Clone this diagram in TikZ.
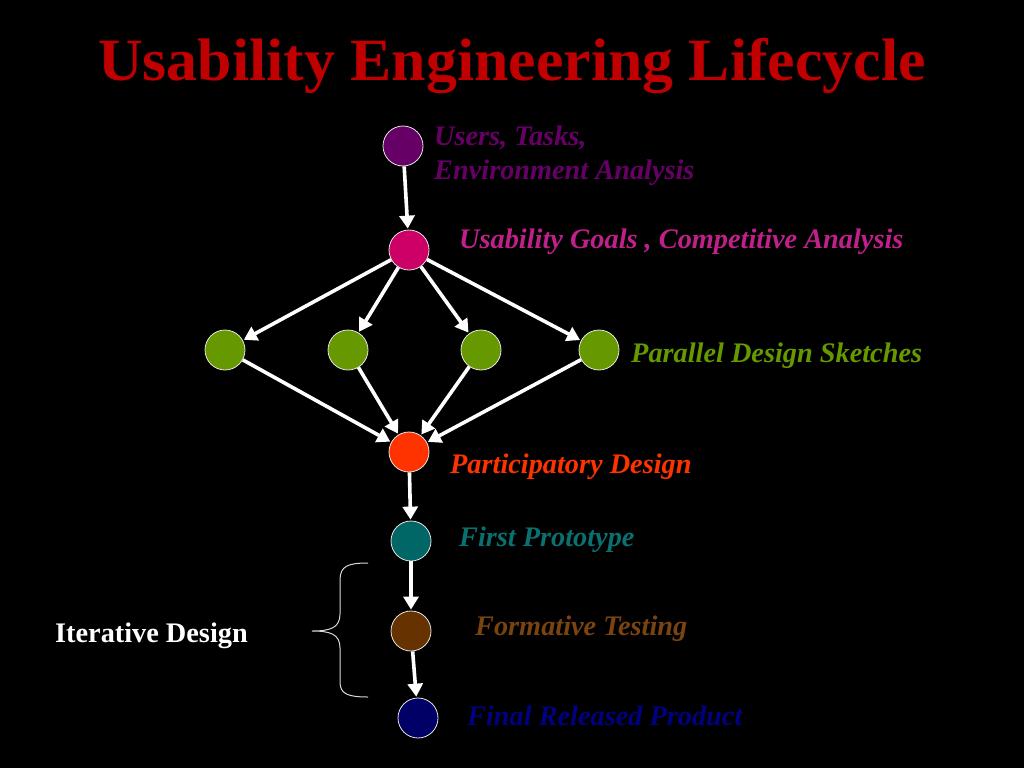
\documentclass[tikz,border=0pt]{standalone}
\usepackage{fontspec}
\setmainfont{Liberation Serif}
\newfontfamily\titlefont[FakeStretch=1.03]{Liberation Serif}
\usetikzlibrary{arrows.meta}
\definecolor{cpurple}{HTML}{660066}
\definecolor{cmagenta}{HTML}{CC0066}
\definecolor{cmagtext}{HTML}{C0208A}
\definecolor{cgreen}{HTML}{669900}
\definecolor{cred}{HTML}{FF3300}
\definecolor{cteal}{HTML}{006666}
\definecolor{ctealtext}{HTML}{0A7070}
\definecolor{cbrown}{HTML}{663300}
\definecolor{cbrowntext}{HTML}{7A4410}
\definecolor{cnavy}{HTML}{000066}
\definecolor{cnavytext}{HTML}{000080}
\definecolor{ctitle}{HTML}{C00000}
\tikzset{
  dot/.style={circle, draw=white!90!black, line width=0.8pt, minimum size=40pt, inner sep=0pt},
  lab/.style={anchor=west, inner sep=0pt, font=\fontsize{28.3}{34}\selectfont\bfseries\itshape, align=left},
  flow/.style={draw=white, line width=3.6pt, -{Triangle[length=13pt,width=15pt]}, shorten >=1pt},
}
\begin{document}
\begin{tikzpicture}[x=1pt,y=-1pt]
\fill[black] (0,0) rectangle (1024,768);
\useasboundingbox (0,0) rectangle (1024,768);
% title
\node[anchor=base, inner sep=0pt, text=ctitle, font=\titlefont\fontsize{60}{66}\selectfont\bfseries] (title) at (512,80) {Usability Engineering Lifecycle};
% nodes
\node[dot, fill=cpurple] (a) at (403,146) {};
\node[dot, fill=cmagenta] (b) at (409,250) {};
\node[dot, fill=cgreen] (g1) at (225,350) {};
\node[dot, fill=cgreen] (g2) at (348,350) {};
\node[dot, fill=cgreen] (g3) at (481,350) {};
\node[dot, fill=cgreen] (g4) at (599,350) {};
\node[dot, fill=cred] (p) at (409,452) {};
\node[dot, fill=cteal] (f) at (411,541) {};
\node[dot, fill=cbrown] (t) at (411,631) {};
\node[dot, fill=cnavy] (r) at (418,718) {};
% labels
\node[lab, text=cpurple] (la) at (434,156) {Users, Tasks,\\Environment Analysis};
\node[lab, text=cmagtext] (lb) at (459,242) {Usability Goals , Competitive Analysis};
\node[lab, text=cgreen] (lg) at (631,356) {Parallel Design Sketches};
\node[lab, text=cred] (lp) at (450,467) {Participatory Design};
\node[lab, text=ctealtext] (lf) at (459,540) {First Prototype};
\node[lab, text=cbrowntext] (lt) at (475,629) {Formative Testing};
\node[lab, text=cnavytext] (lr) at (467,716) {Final Released Product};
\node[anchor=west, inner sep=0pt, text=white, font=\fontsize{28.3}{34}\selectfont\bfseries] (it) at (55,636) {Iterative Design};
% arrows
\draw[flow] (a) -- (b);
\draw[flow] (b) -- (g1);
\draw[flow] (b) -- (g2);
\draw[flow] (b) -- (g3);
\draw[flow] (b) -- (g4);
\draw[flow] (g1) -- (p);
\draw[flow] (g2) -- (p);
\draw[flow] (g3) -- (p);
\draw[flow] (g4) -- (p);
\draw[flow] (p) -- (f);
\draw[flow] (f) -- (t);
\draw[flow] (t) -- (r);
% brace
\coordinate (bt) at (368,563);
\coordinate (bb) at (368,697);
\draw[white!85!black, line width=1pt] (bt) .. controls (348,563) and (340,566) .. (340,580)
  -- (340,614) .. controls (340,628) and (330,631) .. (312,631)
  .. controls (330,631) and (340,634) .. (340,648)
  -- (340,682) .. controls (340,694) and (348,697) .. (bb);
\end{tikzpicture}
\end{document}
